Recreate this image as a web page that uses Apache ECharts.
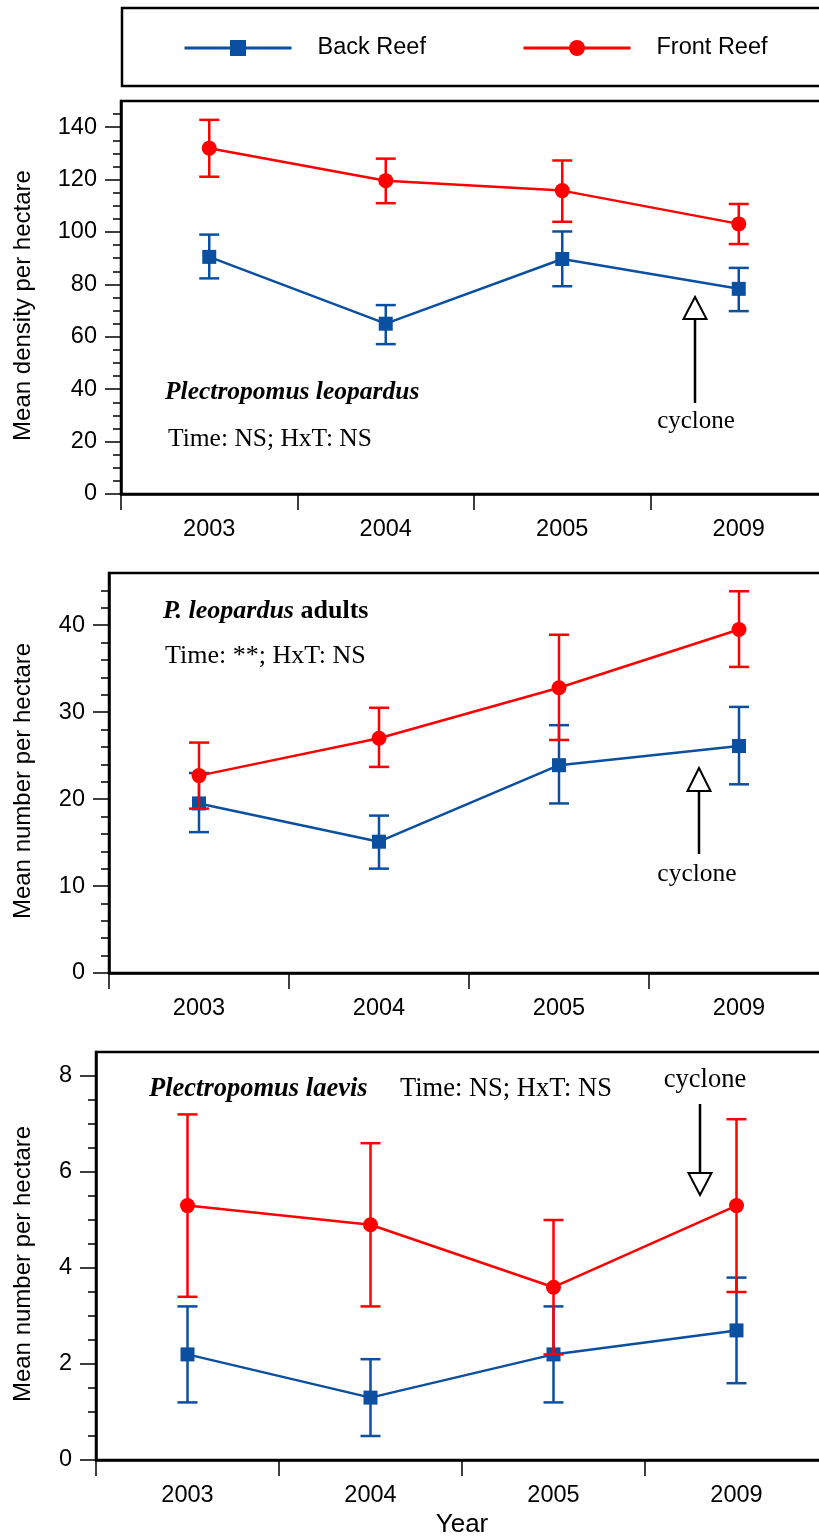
<!DOCTYPE html>
<html><head><meta charset="utf-8">
<script src="https://cdn.jsdelivr.net/npm/echarts@6/dist/echarts.min.js"></script>
<style>html,body{margin:0;padding:0;background:#fff}#c{width:819px;height:1540px}</style>
</head><body><div id="c"></div>
<script>
const years = ['2003', '2004', '2005', '2009'];
// Panel 1: Plectropomus leopardus (mean density per hectare)
const p1Back = [90.5, 65.0, 89.7, 78.3];
const p1BackHi = [99.0, 72.1, 100.2, 86.3];
const p1BackLo = [82.3, 57.2, 79.3, 69.8];
const p1Front = [132.0, 119.6, 115.8, 103.1];
const p1FrontHi = [142.8, 128.0, 127.3, 110.7];
const p1FrontLo = [121.1, 111.0, 103.9, 95.4];
// Panel 2: P. leopardus adults
const p2Back = [19.5, 15.1, 23.9, 26.1];
const p2BackHi = [23.0, 18.1, 28.5, 30.6];
const p2BackLo = [16.2, 12.0, 19.5, 21.7];
const p2Front = [22.7, 27.0, 32.8, 39.5];
const p2FrontHi = [26.5, 30.5, 38.9, 43.9];
const p2FrontLo = [18.9, 23.7, 26.8, 35.2];
// Panel 3: Plectropomus laevis
const p3Back = [2.2, 1.3, 2.2, 2.7];
const p3BackHi = [3.2, 2.1, 3.2, 3.8];
const p3BackLo = [1.2, 0.5, 1.2, 1.6];
const p3Front = [5.3, 4.9, 3.6, 5.3];
const p3FrontHi = [7.2, 6.6, 5.0, 7.1];
const p3FrontLo = [3.4, 3.2, 2.2, 3.5];
// Tick labels
const yTicks1 = [0, 20, 40, 60, 80, 100, 120, 140];
const yTicks2 = [0, 10, 20, 30, 40];
const yTicks3 = [0, 2, 4, 6, 8];

const BLUE = '#0a4fa0';
const RED = '#ff0000';
const SANS = '"Liberation Sans", Arial, sans-serif';
const SERIF = '"Liberation Serif", "Times New Roman", serif';

function errRender(color) {
  return function (params, api) {
    const x = api.value(0), lo = api.value(1), hi = api.value(2);
    const a = api.coord([x, lo]);
    const b = api.coord([x, hi]);
    const hw = 10;
    const st = { stroke: color, lineWidth: 2.5 };
    return { type: 'group', children: [
      { type: 'line', shape: { x1: a[0], y1: a[1], x2: b[0], y2: b[1] }, style: st },
      { type: 'line', shape: { x1: a[0] - hw, y1: a[1], x2: a[0] + hw, y2: a[1] }, style: st },
      { type: 'line', shape: { x1: b[0] - hw, y1: b[1], x2: b[0] + hw, y2: b[1] }, style: st }
    ]};
  };
}
function errData(lo, hi) { return years.map((y, i) => [i, lo[i], hi[i]]); }

const grids = [
  { left: 121, top: 101, width: 706, height: 393 },
  { left: 109, top: 573, width: 720, height: 400 },
  { left: 96, top: 1052, width: 732, height: 408 }
];
const yCfg = [
  { max: 150, interval: 20, split: 4, ticks: yTicks1, name: 'Mean density per hectare', gap: 86 },
  { max: 46, interval: 10, split: 5, ticks: yTicks2, name: 'Mean number per hectare', gap: 74 },
  { max: 8.5, interval: 2, split: 4, ticks: yTicks3, name: 'Mean number per hectare', gap: 61 }
];
const panels = [
  [p1Back, p1BackLo, p1BackHi, p1Front, p1FrontLo, p1FrontHi],
  [p2Back, p2BackLo, p2BackHi, p2Front, p2FrontLo, p2FrontHi],
  [p3Back, p3BackLo, p3BackHi, p3Front, p3FrontLo, p3FrontHi]
];

const series = [];
panels.forEach((p, k) => {
  series.push({ type: 'custom', name: 'errB' + k, xAxisIndex: k, yAxisIndex: k, z: 2,
    renderItem: errRender(BLUE), data: errData(p[1], p[2]), encode: { x: 0, y: [1, 2] }, silent: true });
  series.push({ type: 'line', name: 'Back Reef', xAxisIndex: k, yAxisIndex: k, z: 3, data: p[0],
    symbol: 'rect', symbolSize: 14, itemStyle: { color: BLUE }, lineStyle: { color: BLUE, width: 2.5 } });
  series.push({ type: 'custom', name: 'errF' + k, xAxisIndex: k, yAxisIndex: k, z: 4,
    renderItem: errRender(RED), data: errData(p[4], p[5]), encode: { x: 0, y: [1, 2] }, silent: true });
  series.push({ type: 'line', name: 'Front Reef', xAxisIndex: k, yAxisIndex: k, z: 5, data: p[3],
    symbol: 'circle', symbolSize: 15, itemStyle: { color: RED }, lineStyle: { color: RED, width: 2.5 } });
});

const legendBase = { top: 36, padding: 0, itemWidth: 107, itemHeight: 20, selectedMode: false,
  lineStyle: { width: 3 },
  textStyle: { fontSize: 23.5, fontFamily: SANS, color: '#000', padding: [0, 0, 0, 21] } };

const option = {
  animation: false,
  backgroundColor: '#fff',
  legend: [
    Object.assign({ data: ['Back Reef'], left: 183 }, legendBase),
    Object.assign({ data: ['Front Reef'], left: 522 }, legendBase)
  ],
  grid: grids.map(g => Object.assign({ show: true, borderColor: '#000', borderWidth: 2.5,
    backgroundColor: 'transparent', outerBoundsMode: 'none', containLabel: false }, g)),
  xAxis: grids.map((g, k) => ({
    type: 'category', gridIndex: k, data: years, boundaryGap: true,
    axisLine: { lineStyle: { color: '#000', width: 2.5 } },
    axisTick: { show: true, length: 16, lineStyle: { color: '#000', width: 1.5 } },
    axisLabel: { fontSize: 23.5, fontFamily: SANS, color: '#000', margin: 24 },
    name: k === 2 ? 'Year' : '', nameLocation: 'middle', nameGap: 52,
    nameTextStyle: { fontSize: 26, fontFamily: SANS, color: '#000' }
  })),
  yAxis: yCfg.map((c, k) => ({
    type: 'value', gridIndex: k, min: 0, max: c.max, interval: c.interval,
    name: c.name, nameLocation: 'middle', nameGap: c.gap,
    nameTextStyle: { fontSize: 24, fontFamily: SANS, color: '#000', padding: [0, 16, 0, 0] },
    axisLine: { show: true, lineStyle: { color: '#000', width: 2.5 } },
    axisTick: { show: true, length: 16, customValues: c.ticks, lineStyle: { color: '#000', width: 1.5 } },
    minorTick: { show: true, splitNumber: c.split, length: 8, lineStyle: { color: '#000', width: 1.5 } },
    axisLabel: { fontSize: 23.5, fontFamily: SANS, color: '#000', margin: 24, customValues: c.ticks },
    splitLine: { show: false }
  })),
  series: series,
  graphic: [
    { type: 'rect', shape: { x: 122, y: 8, width: 720, height: 78 }, style: { fill: 'none', stroke: '#000', lineWidth: 2.5 }, silent: true },
    // Panel 1 annotations
    { type: 'text', style: { text: 'Plectropomus leopardus', x: 165, y: 392, font: 'italic bold 25.5px ' + SERIF, fill: '#000', verticalAlign: 'middle' } },
    { type: 'text', style: { text: 'Time: NS; HxT: NS', x: 168, y: 439, font: '25.5px ' + SERIF, fill: '#000', verticalAlign: 'middle' } },
    { type: 'line', shape: { x1: 695, y1: 319, x2: 695, y2: 403 }, style: { stroke: '#000', lineWidth: 2.5 } },
    { type: 'polygon', shape: { points: [[695, 297], [683.5, 319], [706.5, 319]] }, style: { fill: '#fff', stroke: '#000', lineWidth: 2 } },
    { type: 'text', style: { text: 'cyclone', x: 696, y: 421, font: '25px ' + SERIF, fill: '#000', align: 'center', verticalAlign: 'middle' } },
    // Panel 2 annotations
    { type: 'text', style: { text: '{a|P. leopardus}{b| adults}', x: 163, y: 611, verticalAlign: 'middle',
      rich: { a: { font: 'italic bold 26px ' + SERIF, fill: '#000' }, b: { font: 'bold 26px ' + SERIF, fill: '#000' } } } },
    { type: 'text', style: { text: 'Time: **; HxT: NS', x: 165, y: 656, font: '26px ' + SERIF, fill: '#000', verticalAlign: 'middle' } },
    { type: 'line', shape: { x1: 699, y1: 791, x2: 699, y2: 854 }, style: { stroke: '#000', lineWidth: 2.5 } },
    { type: 'polygon', shape: { points: [[699, 768], [687.5, 791], [710.5, 791]] }, style: { fill: '#fff', stroke: '#000', lineWidth: 2 } },
    { type: 'text', style: { text: 'cyclone', x: 697, y: 874, font: '25.5px ' + SERIF, fill: '#000', align: 'center', verticalAlign: 'middle' } },
    // Panel 3 annotations
    { type: 'text', style: { text: 'Plectropomus laevis', x: 149, y: 1089, font: 'italic bold 26.5px ' + SERIF, fill: '#000', verticalAlign: 'middle' } },
    { type: 'text', style: { text: 'Time: NS; HxT: NS', x: 400, y: 1089, font: '26.5px ' + SERIF, fill: '#000', verticalAlign: 'middle' } },
    { type: 'line', shape: { x1: 700, y1: 1104, x2: 700, y2: 1173 }, style: { stroke: '#000', lineWidth: 2.5 } },
    { type: 'polygon', shape: { points: [[700, 1195], [688.5, 1173], [711.5, 1173]] }, style: { fill: '#fff', stroke: '#000', lineWidth: 2 } },
    { type: 'text', style: { text: 'cyclone', x: 705, y: 1080, font: '26.5px ' + SERIF, fill: '#000', align: 'center', verticalAlign: 'middle' } }
  ]
};
const chart = echarts.init(document.getElementById('c'), null, { renderer: 'canvas' });
chart.setOption(option);
</script></body></html>
